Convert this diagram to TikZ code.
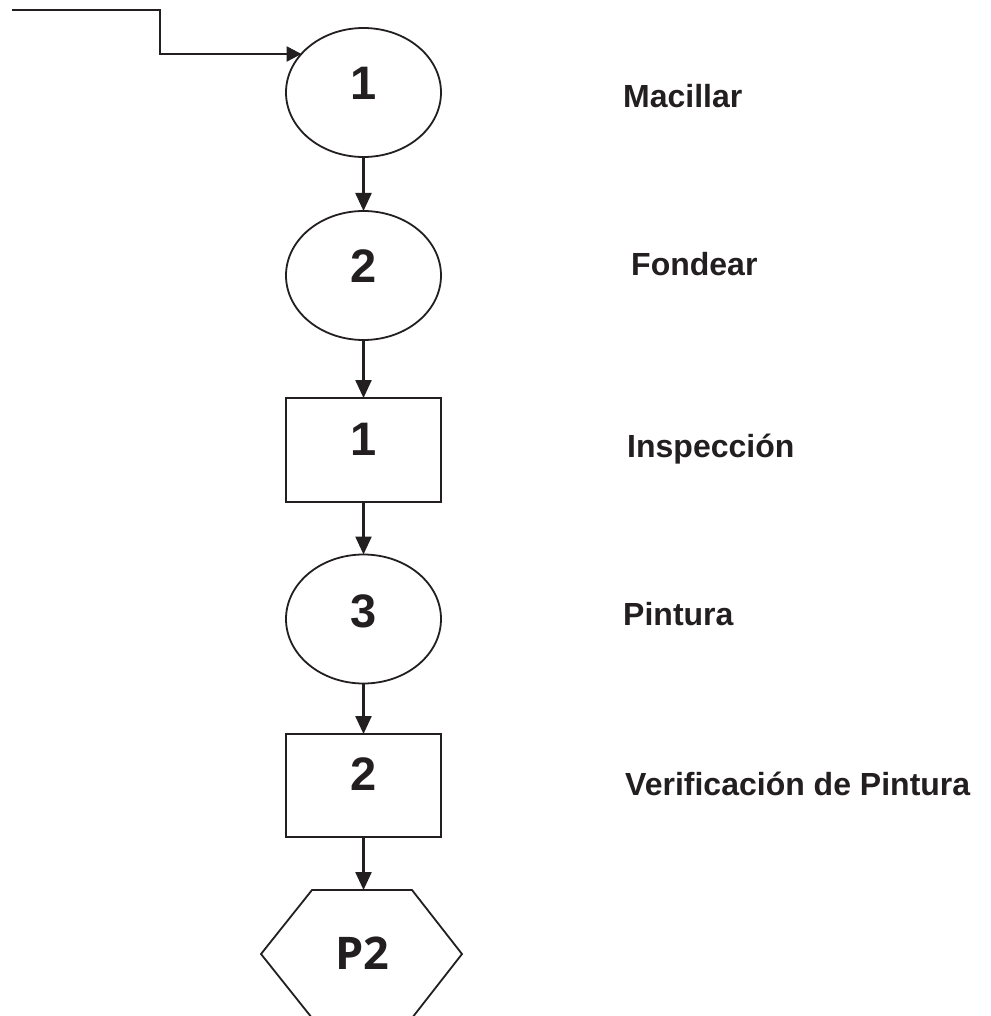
\documentclass[tikz,border=0pt]{standalone}
\usepackage{fontspec}
\setmainfont{Liberation Sans}
\newfontfamily\hexfont{Open Sans}
\usetikzlibrary{shapes.geometric,arrows.meta}
\definecolor{ink}{HTML}{231F20}
\tikzset{
  shapeline/.style={draw=ink, line width=1.8pt, inner sep=0pt, outer sep=0pt},
  oval/.style={shapeline, ellipse, minimum width=155pt, minimum height=129pt},
  box/.style={shapeline, rectangle, minimum width=155pt, minimum height=104pt},
  arr/.style={draw=ink, line width=2.4pt, -{Triangle[length=18pt,width=16pt]}},
  digit/.style={anchor=base, inner sep=0pt, text=ink, font=\fontsize{47}{50}\selectfont\bfseries},
  lbl/.style={anchor=base west, inner sep=0pt, text=ink, font=\fontsize{32}{36}\selectfont\bfseries}
}
\begin{document}
\begin{tikzpicture}[x=1pt,y=-1pt]
\useasboundingbox (0,0) rectangle (990,1016);
\fill[white] (0,0) rectangle (990,1016);
% shapes
\node[oval] (e1) at (363.5,92.5) {};
\node[oval] (e2) at (363.5,275.5) {};
\node[box] (r1) at (363.5,450) {};
\node[oval] (e3) at (363.5,619) {};
\node[box, minimum height=103pt] (r2) at (363.5,785.5) {};
\coordinate (hx) at (362,890);
\begin{scope}
\clip (0,0) rectangle (990,1016);
\draw[ink, line width=1.8pt, line join=miter] (312,890) -- (412,890) -- (462,954) -- (412,1018) -- (312,1018) -- (261,954) -- cycle;
\end{scope}
% digits
\node[digit] (d1) at (363.5,100) {1};
\node[digit] (d2) at (363.5,282) {2};
\node[digit] (d3) at (363.5,455) {1};
\node[digit] (d4) at (363.5,627) {3};
\node[digit] (d5) at (363.5,790) {2};
\node[anchor=base, inner sep=0pt, text=ink, font=\hexfont\fontsize{45}{50}\selectfont\bfseries] (p2) at (362.5,969) {P2};
% connectors
\coordinate (s) at (12,10);
\coordinate (k) at (160,54);
\draw[arr, -{Triangle[length=15pt,width=15pt]}] (s) -| (k) -- (k -| e1.148);
\draw[arr] (e1.south) -- (e2.north);
\draw[arr] (e2.south) -- (r1.north);
\draw[arr] (r1.south) -- (e3.north);
\draw[arr] (e3.south) -- (r2.north);
\draw[arr] (r2.south) -- (r2.south |- hx);
% labels
\node[lbl] (l1) at (623,108) {Macillar};
\node[lbl] (l2) at (631,275) {Fondear};
\node[lbl] (l3) at (627,457) {Inspección};
\node[lbl] (l4) at (623,625) {Pintura};
\node[lbl] (l5) at (625,795) {Verificación de Pintura};
\end{tikzpicture}
\end{document}
